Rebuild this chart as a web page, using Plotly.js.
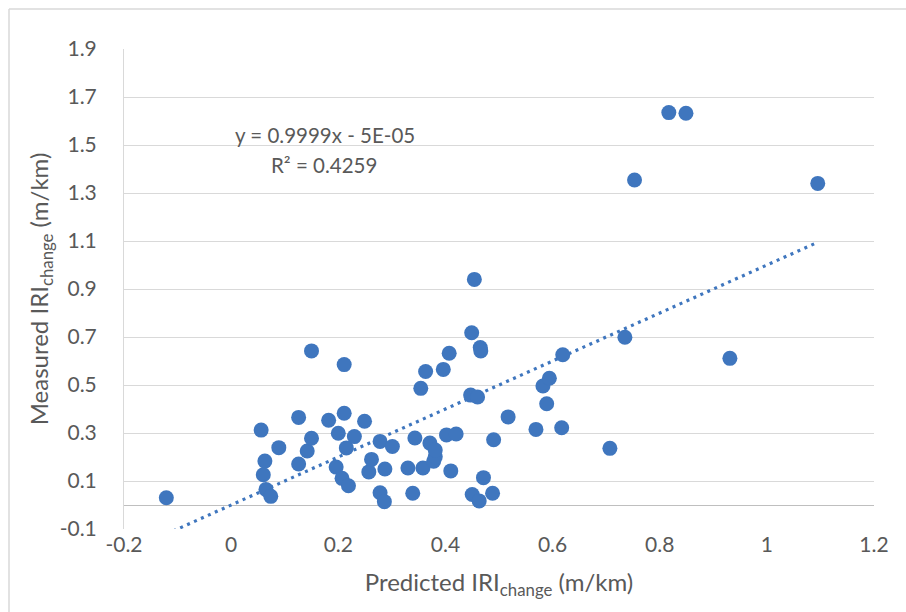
<!DOCTYPE html>
<html>
<head>
<meta charset="utf-8">
<script src="https://cdn.plot.ly/plotly-3.0.1.min.js"></script>
<style>html,body{margin:0;padding:0;background:#fff;}#chart{width:906px;height:612px;}</style>
</head>
<body>
<div id="chart"></div>
<script>
// Predicted vs measured IRI change (m/km)
const predicted = [-0.121,0.056,0.063,0.060,0.065,0.074,0.089,0.126,0.126,0.142,0.150,0.150,0.182,0.196,0.200,0.207,0.211,0.211,0.215,0.219,0.230,0.249,0.257,0.262,0.278,0.278,0.286,0.287,0.301,0.330,0.339,0.343,0.354,0.358,0.363,0.371,0.378,0.381,0.381,0.396,0.402,0.407,0.410,0.420,0.447,0.449,0.450,0.454,0.460,0.463,0.465,0.466,0.471,0.488,0.490,0.517,0.569,0.582,0.589,0.594,0.617,0.619,0.707,0.735,0.753,0.817,0.849,0.931,1.095];
const measured  = [0.030,0.312,0.183,0.126,0.065,0.036,0.239,0.365,0.171,0.225,0.278,0.642,0.353,0.158,0.299,0.111,0.585,0.382,0.238,0.080,0.285,0.349,0.138,0.190,0.265,0.051,0.014,0.150,0.244,0.154,0.049,0.279,0.486,0.154,0.556,0.258,0.182,0.201,0.229,0.565,0.292,0.632,0.142,0.296,0.458,0.718,0.044,0.940,0.450,0.017,0.656,0.642,0.114,0.049,0.272,0.367,0.315,0.496,0.422,0.528,0.322,0.626,0.236,0.699,1.354,1.635,1.632,0.611,1.340];
// Linear trendline reported on the chart
const trendSlope = 0.9999;
const trendIntercept = -0.00005;
const trendLabel = "y = 0.9999x - 5E-05";
const r2Label = "R² = 0.4259";
const xTickVals = [-0.2,0,0.2,0.4,0.6,0.8,1,1.2];
const xTickText = ["-0.2","0","0.2","0.4","0.6","0.8","1","1.2"];
const yTickVals = [-0.1,0.1,0.3,0.5,0.7,0.9,1.1,1.3,1.5,1.7,1.9];
const yTickText = ["-0.1","0.1","0.3","0.5","0.7","0.9","1.1","1.3","1.5","1.7","1.9"];

const xMin = Math.min(...predicted), xMax = Math.max(...predicted);
const trendX = [xMin, xMax];
const trendY = trendX.map(v => trendSlope * v + trendIntercept);

const blue = '#3F76BE';
const grey = '#595959';
const font = 'Lato, "Open Sans", sans-serif';

const data = [
  {x: trendX, y: trendY, type: 'scatter', mode: 'lines',
   line: {color: blue, width: 3.2, dash: '3px,4.6px'}, hoverinfo: 'skip', showlegend: false},
  {x: predicted, y: measured, type: 'scatter', mode: 'markers',
   marker: {color: blue, size: 15, line: {width: 0}}, cliponaxis: false, showlegend: false}
];

const layout = {
  width: 906, height: 612,
  margin: {l: 124, r: 32, t: 49, b: 83},
  paper_bgcolor: '#fff', plot_bgcolor: '#fff',
  font: {family: font, color: grey, size: 20},
  showlegend: false,
  xaxis: {
    range: [-0.2, 1.2], tickvals: xTickVals, ticktext: xTickText,
    showgrid: false, zeroline: false, showline: false, ticks: '',
    ticklabelstandoff: 1, tickfont: {size: 21, color: grey},
    title: {text: 'Predicted IRI<sub>change</sub> (m/km)', font: {size: 24, color: grey}, standoff: 19}
  },
  yaxis: {
    range: [-0.1, 1.9], tickvals: yTickVals, ticktext: yTickText,
    showgrid: true, gridcolor: '#D9D9D9', gridwidth: 1,
    zeroline: true, zerolinecolor: '#BFBFBF', zerolinewidth: 1,
    showline: true, linecolor: '#D9D9D9', linewidth: 1, mirror: false,
    ticks: '', ticklabelstandoff: 22, tickfont: {size: 21, color: grey},
    title: {text: 'Measured IRI<sub>change</sub> (m/km)', font: {size: 24, color: grey}, standoff: 4}
  },
  annotations: [
    {xref: 'paper', yref: 'paper', x: (325-124)/750, y: (529-135)/480, text: trendLabel,
     showarrow: false, font: {size: 20.5, color: grey}, xanchor: 'center', yanchor: 'middle'},
    {xref: 'paper', yref: 'paper', x: (324-124)/750, y: (529-165)/480, text: r2Label,
     showarrow: false, font: {size: 20.5, color: grey}, xanchor: 'center', yanchor: 'middle'}
  ],
  shapes: [
    {type: 'line', xref: 'paper', yref: 'paper', x0: (9-124)/750, x1: (906-124)/750,
     y0: (529-9)/480, y1: (529-9)/480, line: {color: '#D9D9D9', width: 1.5}},
    {type: 'line', xref: 'paper', yref: 'paper', x0: (9-124)/750, x1: (9-124)/750,
     y0: (529-9)/480, y1: (529-612)/480, line: {color: '#D9D9D9', width: 1.5}}
  ]
};

Plotly.newPlot('chart', data, layout, {displayModeBar: false, staticPlot: true});
</script>
</body>
</html>
